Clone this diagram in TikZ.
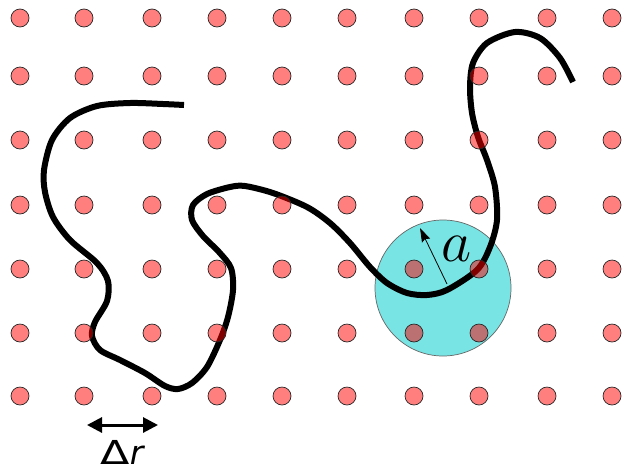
\documentclass[tikz,border=0pt]{standalone}
\usepackage{fontspec}
\newfontfamily\dejavu{DejaVu Sans}
\usetikzlibrary{arrows.meta}
\definecolor{cyanfill}{RGB}{120,228,228}
\begin{document}
\begin{tikzpicture}[x=1pt,y=-1pt,
  dot/.style={circle,fill=red,fill opacity=0.5,draw=black!85,draw opacity=1,line width=0.7pt,minimum size=18pt,inner sep=0pt},
  chainline/.style={line width=6pt,line join=round},
  disk/.style={circle,fill=cyanfill,draw=black!60,line width=0.7pt,minimum size=136pt,inner sep=0pt},
  radius arrow/.style={line width=0.8pt,-{Stealth[length=14pt,width=9pt,inset=2pt]}},
  span arrow/.style={line width=3pt,{Triangle[length=15pt,width=15pt]}-{Triangle[length=15pt,width=15pt]}}
]
\useasboundingbox (0,0) rectangle (623,472);
\node[disk] (blob) at (443,288) {};
\draw[chainline] plot[smooth, tension=0.5] coordinates {
(184,105) (163,104) (130,103) (97,106) (70,118) (52,140) (44,170) (45,192) (53,217) (70,240) (97,263) (108,281) (107,301) (95,322) (92,336) (100,350) (120,360) (145,373) (165,386) (178,389) (192,383) (207,367) (220,340) (228,317) (233,290) (231,268) (219,252) (203,236) (192,220) (193,205) (207,194) (230,187) (245,186) (273,193) (307,207) (330,223) (350,243) (370,267) (387,283) (407,293) (427,295) (447,290) (477,270) (490,247) (497,220) (495,187) (487,160) (478,137) (472,113) (470,87) (473,63) (487,43) (515,32) (540,38) (560,58) (573,82)};
\foreach \y [count=\j] in {18,76,140,205,269,333,396}
  \foreach \x [count=\i] in {20,84,152,217,282,347,414,479,547,612}
    \node[dot] (d\i-\j) at (\x,\y) {};
\coordinate (ctr) at (447,284);
\coordinate (rim) at (420,228);
\draw[radius arrow] (ctr) -- (rim);
\node (alabel) at (457,249) {\scalebox{2.35}{\Huge$a$}};
\coordinate (sl) at (87,425);
\coordinate (sr) at (158,425);
\draw[span arrow] (sl) -- (sr);
\node (dr) at (122,452) {\dejavu\fontsize{33}{33}\selectfont\scalebox{1.3}[1]{Δ}\itshape r};
\end{tikzpicture}
\end{document}
